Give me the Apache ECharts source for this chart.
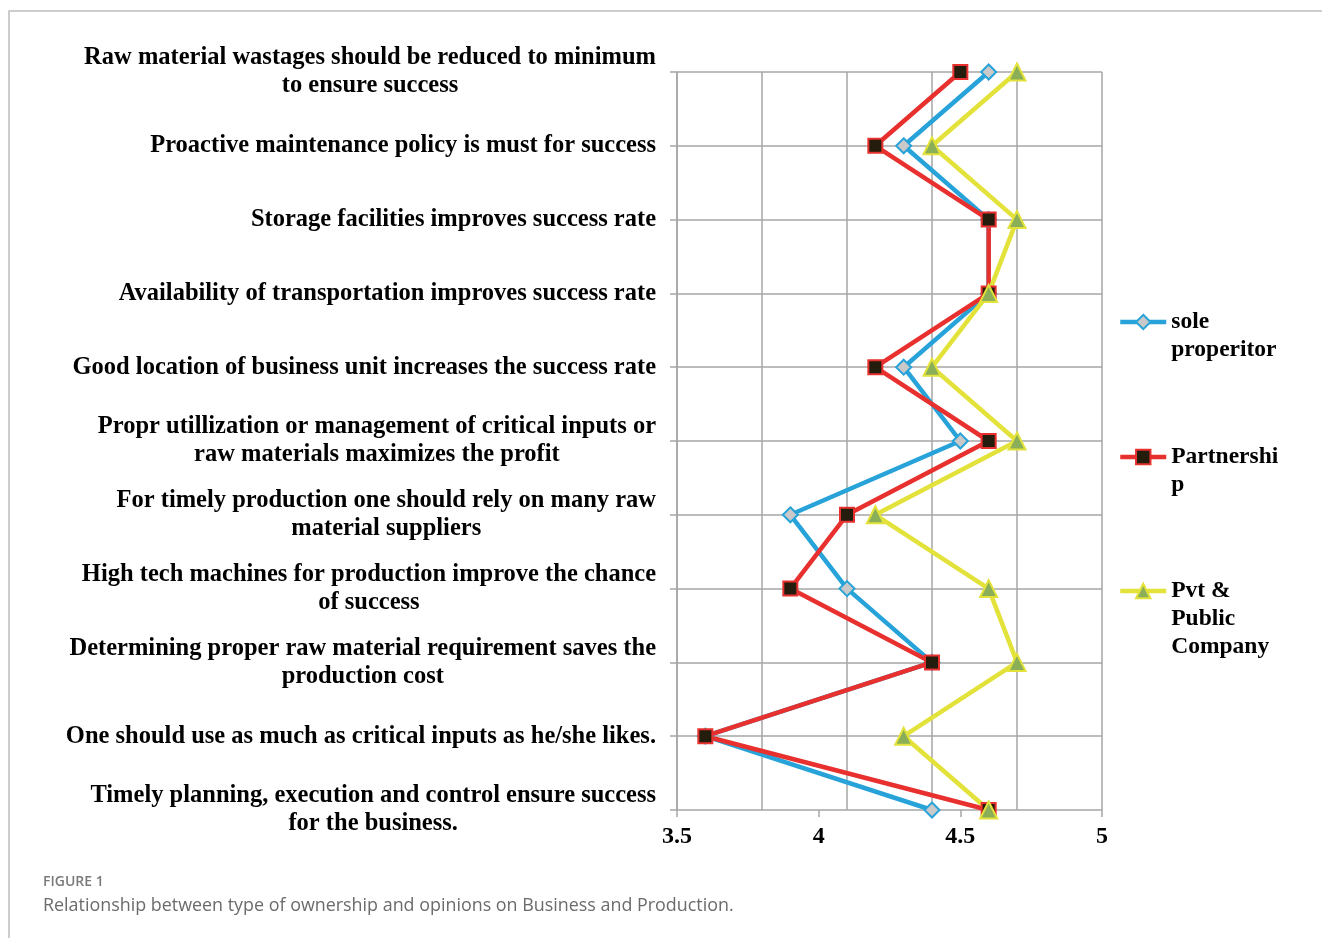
<!DOCTYPE html>
<html>
<head>
<meta charset="utf-8">
<script src="https://cdn.jsdelivr.net/npm/echarts@6/dist/echarts.min.js"></script>
<style>
  html, body { margin: 0; padding: 0; background: #fff; }
  #chart { width: 1322px; height: 938px; }
</style>
</head>
<body>
<div id="chart"></div>
<script>
// Survey statements (top to bottom)
const statements = [
  'Raw material wastages should be reduced to minimum\nto ensure success',
  'Proactive maintenance policy is must for success',
  'Storage facilities improves success rate',
  'Availability of transportation improves success rate',
  'Good location of business unit increases the success rate',
  'Propr utillization or management of critical inputs or\nraw materials maximizes the profit',
  'For timely production one should rely on many raw\nmaterial suppliers',
  'High tech machines for production improve the chance\nof success',
  'Determining proper raw material requirement saves the\nproduction cost',
  'One should use as much as critical inputs as he/she likes.',
  'Timely planning, execution and control ensure success\nfor the business.'
];

// Mean opinion score per ownership type
const soleProprietor = [4.6, 4.3, 4.6, 4.6, 4.3, 4.5, 3.9, 4.1, 4.4, 3.6, 4.4];
const partnership    = [4.5, 4.2, 4.6, 4.6, 4.2, 4.6, 4.1, 3.9, 4.4, 3.6, 4.6];
const pvtPublic      = [4.7, 4.4, 4.7, 4.6, 4.4, 4.7, 4.2, 4.6, 4.7, 4.3, 4.6];

const seriesNames = ['sole proprietor', 'Partnership', 'Pvt & Public Company'];
const legendLabels = ['sole\nproperitor', 'Partnershi\np', 'Pvt &\nPublic\nCompany'];

const SERIF = '"Liberation Serif", "Times New Roman", serif';
const LABEL_SIZE = 24.5;
const LEGEND_SIZE = 23.5;
const LINE_H = 28;
const GRID_COLOR = '#a6a6a6';

const chart = echarts.init(document.getElementById('chart'));

function makeSeries(name, data, lineColor, symbol, size, fill) {
  return {
    name: name,
    type: 'line',
    data: data,
    xAxisIndex: 0,
    symbol: symbol,
    symbolSize: size,
    showAllSymbol: true,
    lineStyle: { color: lineColor, width: 4.5 },
    itemStyle: { color: fill, borderColor: lineColor, borderWidth: 2 },
    emphasis: { disabled: true },
    animation: false
  };
}

// Each legend entry gets its own component so the icon lines up with the
// first text line; blank lines above the label keep that first line centred.
function legendFor(idx, iconY) {
  const lines = legendLabels[idx].split('\n');
  const padded = Array(lines.length - 1).fill(' ').concat(lines).join('\n');
  const totalLines = lines.length * 2 - 1;
  return {
    orient: 'vertical',
    left: 1118,
    top: iconY - (totalLines * LINE_H) / 2,
    padding: 0,
    itemWidth: 46,
    itemHeight: 18,
    itemGap: 4,
    selectedMode: false,
    data: [{ name: seriesNames[idx] }],
    formatter: () => padded,
    lineStyle: { width: 4.5 },
    itemStyle: { borderWidth: 2 },
    textStyle: {
      fontFamily: SERIF,
      fontWeight: 'bold',
      fontSize: LEGEND_SIZE,
      lineHeight: LINE_H,
      color: '#000'
    }
  };
}

chart.setOption({
  animation: false,
  title: {
    text: 'FIGURE 1',
    subtext: 'Relationship between type of ownership and opinions on Business and Production.',
    left: 38,
    top: 870,
    itemGap: 8,
    textStyle: { fontFamily: '"Open Sans", sans-serif', fontSize: 14, fontWeight: 600, color: '#7a7a7a' },
    subtextStyle: { fontFamily: '"Open Sans", sans-serif', fontSize: 17.9, color: '#6b6b6b' }
  },
  graphic: [
    { type: 'polyline', shape: { points: [[9, 938], [9, 11], [1322, 11]] },
      style: { stroke: '#bdbdbd', lineWidth: 1.5, fill: null } }
  ],
  legend: [
    legendFor(0, 322),
    legendFor(1, 457),
    legendFor(2, 591)
  ],
  grid: { left: 677, right: 220, top: 72, bottom: 128 },
  xAxis: [
    {
      type: 'value', min: 3.5, max: 5, interval: 0.5, position: 'bottom',
      axisLine: { show: false },
      axisTick: { show: true, length: 7, lineStyle: { color: GRID_COLOR, width: 1.5 } },
      splitLine: { show: false },
      axisLabel: { fontFamily: SERIF, fontWeight: 'bold', fontSize: 24, color: '#000', margin: 15 }
    },
    {
      type: 'value', min: 3.5, max: 5, interval: 0.3, position: 'bottom',
      axisLine: { show: false }, axisTick: { show: false }, axisLabel: { show: false },
      splitLine: { show: true, lineStyle: { color: GRID_COLOR, width: 1.5 } }
    }
  ],
  yAxis: {
    type: 'category',
    data: statements,
    inverse: true,
    boundaryGap: false,
    axisLine: { show: true, lineStyle: { color: GRID_COLOR, width: 1.5 } },
    axisTick: { show: true, length: 7, lineStyle: { color: GRID_COLOR, width: 1.5 } },
    splitLine: { show: true, lineStyle: { color: GRID_COLOR, width: 1.5 } },
    axisLabel: {
      margin: 21,
      interval: 0,
      formatter: v => v.split('\n').map(s => '{c|' + s + '}').join('\n'),
      rich: {
        c: { fontFamily: SERIF, fontWeight: 'bold', fontSize: LABEL_SIZE, lineHeight: LINE_H, color: '#000', align: 'center' }
      }
    }
  },
  series: [
    makeSeries(seriesNames[0], soleProprietor, '#27a3d9', 'diamond', 15, '#c9c9c9'),
    makeSeries(seriesNames[1], partnership, '#e8302e', 'rect', 14, '#241c0c'),
    makeSeries(seriesNames[2], pvtPublic, '#e2e23a', 'triangle', 17, '#8bae58')
  ]
});
</script>
</body>
</html>
